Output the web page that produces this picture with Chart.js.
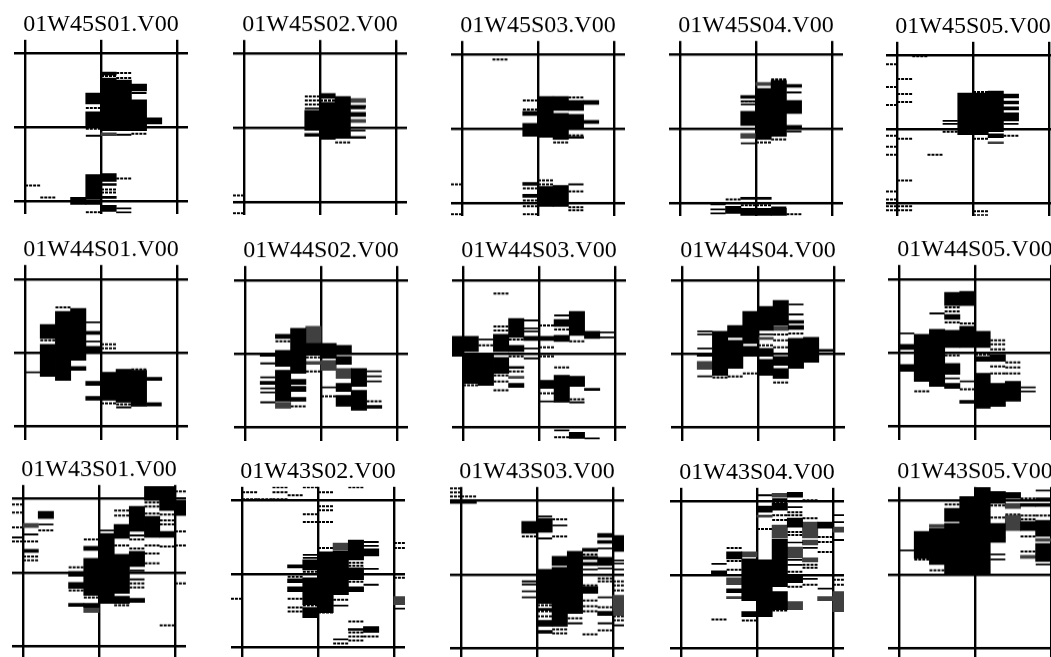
<!DOCTYPE html>
<html><head><meta charset="utf-8">
<script src="https://cdn.jsdelivr.net/npm/chart.js@4"></script>
<style>
html,body{margin:0;padding:0;background:#fff;overflow:hidden;width:1051px;height:657px}
#wrap{position:relative;width:1051px;height:657px;overflow:hidden}
.p{position:absolute}
</style></head><body><div id="wrap"></div>
<script>
// Each mark: [column, top, bottom] for blocks and shaded bands; [column, level] for dashes and rules.
const titles=["01W45S01.V00","01W45S02.V00","01W45S03.V00","01W45S04.V00","01W45S05.V00",
"01W44S01.V00","01W44S02.V00","01W44S03.V00","01W44S04.V00","01W44S05.V00",
"01W43S01.V00","01W43S02.V00","01W43S03.V00","01W43S04.V00","01W43S05.V00"];
const rowTicks=[74.5,73.5,74];

const a1_blocks=[[-1,34,23],[-1,15,1],[0,55,52],[0,49,-4],[1,47,-4],[2,43,36],[2,27,-4],[3,9,3],[-1,-48,-73],[-1,-76,-78],[0,-47,-55],[0,-57,-59],[0,-70,-72],[0,-79,-85],[-2,-71,-78]];
const a1_gray=[[0,-6,-9]];
const a1_dash=[[0,-3],[1,-3],[1,54],[1,49],[2,-7],[3,5],[-1,19],[-1,-86],[0,51],[0,-63],[0,-66],[1,-52],[-4,-71],[-5,-59],[-1,-2]];
const a1_rule=[[-1,-9],[1,-8],[1,-82],[1,-86],[2,34]];

const a2_blocks=[[-1,17,-3],[-1,-6,-9],[0,34,29],[0,25,-12],[1,31,-11],[2,22,20],[2,15,11],[2,-9,-11]];
const a2_gray=[[2,29,25],[2,8,5]];
const a2_dash=[[-1,31],[-1,27],[-1,23],[0,27],[1,-15],[-6,-68],[-6,-86]];
const a2_rule=[[-1,19],[2,19],[2,-3]];

const a3_blocks=[[-1,17,13],[-1,5,-8],[0,32,-9],[1,32,18],[1,15,-11],[2,28,18],[2,14,0],[2,-8,-10],[3,28,24],[3,8,5],[-1,-54,-57],[-1,-66,-69],[0,-58,-78],[1,-57,-78]];
const a3_gray=[];
const a3_dash=[[-3,69],[-1,28],[-1,19],[2,31],[1,-14],[2,-7],[-6,-56],[-6,-86],[-1,-60],[-1,-72],[-1,-78],[-1,-86],[0,-52],[0,-56],[2,-63],[2,-79],[2,-82]];
const a3_rule=[[2,-56]];

const a4_blocks=[[-1,33,30],[-1,17,3],[0,40,-11],[1,48,-8],[2,44,41],[2,28,15],[2,3,1],[-1,-69,-71],[-2,-78,-85],[-1,-80,-88],[0,-69,-71],[0,-80,-88],[1,-80,-88]];
const a4_gray=[[0,46,43],[-1,-5,-10]];
const a4_dash=[[-1,27],[1,49],[1,-11],[-2,-71],[-1,-77],[0,-77],[2,-86],[0,-14]];
const a4_rule=[[-1,27],[-1,24],[2,36],[2,-3],[-1,-15],[-3,-76],[-3,-81],[-3,-85],[1,-79]];

const a5_blocks=[[-1,36,-6],[0,36,-6],[1,38,-3],[1,-5,-9],[2,35,31],[2,28,25],[2,22,19],[2,16,8]];
const a5_gray=[[1,-13,-15]];
const a5_dash=[[-6,65],[-6,42],[-6,24],[-6,-7],[-6,-18],[-6,-26],[-6,-63],[-6,-71],[-6,-78],[-6,-82],[-5,50],[-5,35],[-5,27],[-5,-10],[-5,-52],[-5,-78],[-5,-82],[-4,73],[-3,-26],[-2,-3],[0,37],[0,-10],[0,-83],[0,-87],[2,-7]];
const a5_rule=[[-2,8],[-2,5],[2,5]];

const b1_blocks=[[-4,28,14],[-4,8,-24],[-3,41,-28],[-2,44,-8],[-2,-14,-18],[-1,21,18],[-1,6,1],[0,-20,-48],[-1,-29,-33],[-1,-44,-48],[1,-17,-50],[2,-18,-54],[3,-25,-28]];
const b1_gray=[];
const b1_dash=[[-3,45],[-4,12],[0,8],[0,4],[0,-51],[1,-52],[2,-17]];
const b1_rule=[[-5,-20],[-1,30],[-1,11],[3,-51],[3,-53],[1,-55]];

const b2_blocks=[[-4,-1,-3],[-4,-28,-31],[-3,19,15],[-3,3,-13],[-3,-17,-48],[-2,25,-20],[-2,-26,-31],[-2,-33,-38],[-2,-44,-48],[-1,10,-2],[0,10,-5],[1,8,0],[1,-3,-11],[1,-30,-38],[1,-42,-53],[2,-15,-33],[2,-37,-57],[3,-52,-55]];
const b2_gray=[[-3,-49,-55],[-1,27,10],[-1,-8,-11],[0,-7,-17],[1,-15,-25]];
const b2_dash=[[-3,12],[-1,-4],[-1,-18],[0,-43],[-2,-53],[3,-48]];
const b2_rule=[[-4,-10],[-4,-24],[-4,-35],[-4,-39],[-4,-49],[0,-34],[3,-18],[3,-23],[3,-28]];

const b3_blocks=[[-6,17,-3],[-5,17,2],[-5,-1,-30],[-4,-1,-32],[-3,19,2],[-3,-4,-20],[-2,35,16],[-2,8,2],[-2,-13,-15],[-2,-30,-34],[-1,17,13],[0,17,13],[0,-27,-35],[1,34,27],[1,18,12],[1,-22,-49],[2,42,18],[2,-23,-33],[3,22,15],[3,-35,-37],[2,-79,-85]];
const b3_gray=[[-2,-23,-25]];
const b3_dash=[[-3,60],[-5,-32],[-4,8],[-3,27],[-3,23],[-3,-22],[-3,-28],[-3,-37],[-2,14],[-2,-3],[-2,-18],[0,28],[0,6],[0,-3],[0,-40],[1,24],[1,-14],[2,12],[1,-84],[2,-46]];
const b3_rule=[[-4,14],[-1,33],[-1,25],[-1,22],[-1,5],[-1,-5],[0,-48],[4,21],[4,16],[1,38],[1,-77],[2,-49],[3,-85]];

const b4_blocks=[[-4,0,-3],[-3,22,-22],[-2,28,16],[-2,13,-15],[-1,42,10],[-1,7,-3],[0,47,23],[0,5,-3],[0,-6,-22],[1,53,28],[1,-3,-12],[1,-15,-25],[2,33,30],[2,28,24],[2,15,-15],[3,16,-9],[4,4,2]];
const b4_gray=[[-4,-8,-16],[0,16,14],[1,27,23]];
const b4_dash=[[-3,-24],[-2,-23],[-1,-20],[0,8],[1,19],[1,13],[1,6],[1,-29],[2,20]];
const b4_rule=[[-4,22],[-4,19],[-4,5],[-4,-23],[0,19],[2,49],[2,39]];

const b5_blocks=[[-5,8,3],[-5,-12,-19],[-4,18,-29],[-3,23,-34],[-2,60,47],[-2,38,33],[-2,22,5],[-2,-11,-22],[-2,-31,-36],[-1,61,47],[-1,26,5],[-1,-48,-51],[0,21,5],[0,-4,-9],[0,-21,-56],[1,-2,-9],[1,-31,-54],[2,-29,-49]];
const b5_gray=[];
const b5_dash=[[-2,45],[-2,41],[-2,30],[-2,-3],[-1,29],[-1,-37],[0,-2],[1,12],[1,8],[1,3],[1,-14],[1,-21],[2,-10],[2,-15],[2,-21],[-4,-39]];
const b5_rule=[[-5,19],[-3,39],[-2,-26],[-1,-29],[1,-53],[3,-35],[3,-39],[0,-34]];

const c1_blocks=[[-5,23,20],[-4,61,54],[-2,1,-4],[-2,-10,-16],[-2,-31,-34],[-1,26,22],[-1,14,-23],[-1,-31,-35],[0,39,-31],[1,48,34],[1,18,-21],[1,-24,-31],[2,66,41],[2,21,6],[2,-26,-30],[3,86,72],[3,56,35],[4,86,62],[4,41,35],[5,72,57]];
const c1_gray=[[-5,49,45],[-1,-35,-40]];
const c1_dash=[[-6,68],[-6,60],[-6,45],[-6,31],[-5,31],[-5,16],[-5,12],[-4,42],[-2,5],[-2,-18],[-1,33],[-1,-25],[1,62],[1,57],[1,27],[1,-33],[2,33],[2,24],[2,-11],[2,-15],[3,70],[3,66],[3,59],[3,27],[3,19],[3,9],[4,58],[4,52],[4,48],[4,26],[4,-53],[5,81],[5,41],[5,27],[5,-11]];
const c1_rule=[[-6,35],[-5,38],[-4,48],[0,42],[2,37],[2,2],[2,-7]];

const c2_blocks=[[-2,9,6],[-2,-5,-9],[-2,-13,-18],[-1,14,4],[-1,-4,-31],[-1,-34,-44],[0,22,-39],[1,23,-21],[2,34,14],[2,6,-6],[2,-13,-18],[3,25,18],[3,-53,-59],[2,-55,-57]];
const c2_gray=[[1,31,24],[5,-23,-31]];
const c2_dash=[[-5,82],[-5,75],[-4,75],[-3,87],[-3,82],[-3,75],[-2,79],[-1,87],[-1,60],[-1,52],[-1,2],[-1,-32],[0,82],[0,68],[0,64],[0,52],[0,26],[-6,-25],[0,-39],[1,-26],[1,-70],[2,87],[2,11],[2,8],[2,-8],[2,-48],[2,-59],[2,-63],[2,-67],[3,-63],[5,31],[5,26],[5,-4],[-2,-3],[-2,-25],[-2,-34],[-2,-38]];
const c2_rule=[[-1,19],[-1,16],[1,-32],[1,-66],[3,32],[3,28],[3,5],[3,-11],[5,-35]];

const c3_blocks=[[-6,75,71],[-5,75,71],[-1,53,41],[0,56,42],[0,5,-29],[0,-34,-36],[0,-46,-52],[0,-56,-59],[1,18,9],[1,7,-52],[2,23,-39],[3,26,23],[3,18,15],[3,12,9],[3,-12,-19],[4,41,37],[4,34,31],[4,17,9],[4,-37,-41],[5,39,23]];
const c3_gray=[[5,-21,-41]];
const c3_dash=[[-6,86],[-6,82],[-6,78],[-5,78],[-1,38],[0,-31],[0,-37],[0,-42],[1,55],[1,38],[1,-55],[1,-59],[2,-44],[3,20],[3,-11],[3,-26],[3,-32],[3,-37],[3,-60],[4,-4],[4,-7],[4,-33],[4,-56],[5,-7],[5,-11],[5,-16],[5,-42],[5,-46]];
const c3_rule=[[-1,-7],[-1,-10],[-1,-17],[-1,-23],[0,58],[0,36],[1,49],[2,-49],[3,5],[4,26],[4,6],[4,-23],[4,-49],[5,14],[5,11],[5,5],[5,-51]];

const d1_blocks=[[-3,4,1],[-2,23,16],[-2,-14,-18],[-1,16,-26],[-1,-37,-42],[0,69,63],[0,15,-42],[1,72,65],[1,36,-12],[1,-17,-35],[2,83,78],[2,57,48],[2,33,32],[2,0,-8],[4,53,47]];
const d1_gray=[[-2,-3,-10],[-2,-22,-24],[-1,23,18],[0,60,58],[1,82,78],[1,50,37],[2,28,17],[2,-27,-35],[3,53,37],[3,35,30],[3,17,13],[4,-22,-26],[5,48,43],[5,-17,-37]];
const d1_dash=[[-2,27],[-2,14],[-2,5],[-1,-46],[0,46],[1,73],[1,60],[1,55],[1,-36],[2,63],[2,60],[2,43],[2,40],[2,3],[2,-12],[3,75],[3,57],[3,10],[3,7],[3,-10],[4,38],[4,33],[4,23],[5,-5],[5,-10],[-3,-45]];
const d1_rule=[[-3,11],[0,80],[1,76],[2,68],[2,15],[2,10],[3,27],[3,-4],[4,-14],[5,60],[5,53],[5,35]];

const d2_blocks=[[-4,43,16],[-3,46,10],[-2,66,53],[-2,51,0],[-1,78,-1],[0,87,81],[0,81,1],[1,83,71],[1,51,32],[2,82,76],[3,71,68],[3,53,44],[4,71,68],[4,54,38],[4,31,13]];
const d2_gray=[[-3,50,47],[2,71,66],[2,59,44],[4,36,33],[3,19,16]];
const d2_dash=[[-4,15],[-3,4],[-2,70],[1,69],[1,57],[1,37],[2,60],[3,76],[3,59],[3,55],[3,38],[3,23],[4,59]];
const d2_rule=[[-5,24],[1,20],[1,15],[4,84],[4,76],[4,10]];

const blockSets=[a1_blocks,a2_blocks,a3_blocks,a4_blocks,a5_blocks,b1_blocks,b2_blocks,b3_blocks,b4_blocks,b5_blocks,c1_blocks,c2_blocks,c3_blocks,d1_blocks,d2_blocks];
const graySets=[a1_gray,a2_gray,a3_gray,a4_gray,a5_gray,b1_gray,b2_gray,b3_gray,b4_gray,b5_gray,c1_gray,c2_gray,c3_gray,d1_gray,d2_gray];
const dashSets=[a1_dash,a2_dash,a3_dash,a4_dash,a5_dash,b1_dash,b2_dash,b3_dash,b4_dash,b5_dash,c1_dash,c2_dash,c3_dash,d1_dash,d2_dash];
const ruleSets=[a1_rule,a2_rule,a3_rule,a4_rule,a5_rule,b1_rule,b2_rule,b3_rule,b4_rule,b5_rule,c1_rule,c2_rule,c3_rule,d1_rule,d2_rule];

// Page placement of each panel's centre
const centerX=[100.7,319.7,538.3,756,973, 101,320.7,539.3,758,975.3, 98.7,318.3,536.7,757,975.3];
const centerY=[127,127.5,128.3,128.5,129, 352.5,353.3,353.3,353.3,352.7, 572.3,574,574.3,575,574.3];

const HALF_W=88,HALF_H=87.5,COL=15.35,TITLE_FONT=24,TITLE_PAD=[1,1,1];
const wrap=document.getElementById('wrap');
const segs=list=>list.flatMap(([c,y])=>[{x:c,y},{x:c+1,y},{x:c+1,y:NaN}]);
const bars=list=>list.map(([c,t,b])=>({x:c+0.5,y:[b,t]}));

titles.forEach((title,i)=>{
  const row=Math.floor(i/5), pad=TITLE_PAD[row], th=TITLE_FONT*1.2+pad;
  const d=document.createElement('div');d.className='p';
  const w=HALF_W*2,h=HALF_H*2+th;
  d.style.cssText=`left:${centerX[i]-HALF_W}px;top:${centerY[i]-HALF_H-th}px;width:${w}px;height:${h}px`;
  const cv=document.createElement('canvas');d.appendChild(cv);wrap.appendChild(d);
  const T=rowTicks[row];
  new Chart(cv,{type:'bar',data:{datasets:[
    {type:'bar',data:bars(blockSets[i]),backgroundColor:'#000',barThickness:COL,grouped:false,borderWidth:0},
    {type:'bar',data:bars(graySets[i]),backgroundColor:'#404040',barThickness:COL,grouped:false,borderWidth:0},
    {type:'line',data:segs(dashSets[i]),borderColor:'#000',borderWidth:2,borderDash:[3,1],pointRadius:0,spanGaps:false,tension:0},
    {type:'line',data:segs(ruleSets[i]),borderColor:'#000',borderWidth:1.8,pointRadius:0,spanGaps:false,tension:0}
  ]},options:{responsive:true,maintainAspectRatio:false,animation:false,
    layout:{padding:0},
    plugins:{legend:{display:false},tooltip:{enabled:false},
      title:{display:true,text:title,color:'#000',font:{family:'"Liberation Serif"',size:TITLE_FONT,weight:'normal',lineHeight:1.2},padding:{top:0,bottom:pad}}},
    scales:{
      x:{type:'linear',offset:false,min:-HALF_W/COL,max:HALF_W/COL,
        afterBuildTicks:s=>{s.ticks=[-5,0,5].map(v=>({value:v}))},
        ticks:{display:false},border:{display:false},grid:{offset:false,color:'#000',lineWidth:2.4,drawTicks:false}},
      y:{type:'linear',min:-HALF_H,max:HALF_H,
        afterBuildTicks:s=>{s.ticks=[-T,0,T].map(v=>({value:v}))},
        ticks:{display:false},border:{display:false},grid:{color:'#000',lineWidth:2.4,drawTicks:false}}
    }}});
});
</script></body></html>
